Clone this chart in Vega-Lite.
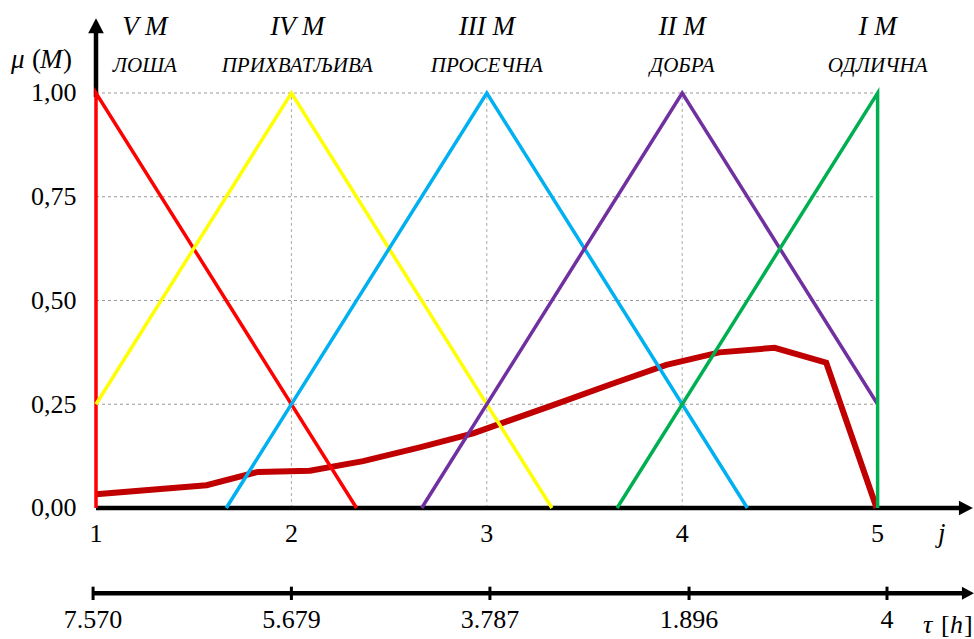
{
  "$schema": "https://vega.github.io/schema/vega-lite/v6.json",
  "autosize": {"type": "none"},
  "padding": {"left": 96, "top": 18, "right": 0, "bottom": 0},
  "width": 878,
  "height": 621,
  "background": "white",
  "config": {
    "view": {"stroke": null},
    "font": "Liberation Serif",
    "axisY": {"domain": false, "ticks": false, "grid": false,
      "labelFont": "Liberation Serif", "labelFontSize": 26, "labelColor": "black", "labelPadding": 20,
      "labelExpr": "replace(format(datum.value, '.2f'), '.', ',')"}
  },
  "datasets": {
    "triangles": [
      {"s": 1, "j": 1, "mu": 0, "o": 1},
      {"s": 1, "j": 1, "mu": 1, "o": 2},
      {"s": 1, "j": 2.3333, "mu": 0, "o": 3},
      {"s": 2, "j": 1, "mu": 0.25, "o": 1},
      {"s": 2, "j": 2, "mu": 1, "o": 2},
      {"s": 2, "j": 3.3333, "mu": 0, "o": 3},
      {"s": 3, "j": 1.6667, "mu": 0, "o": 1},
      {"s": 3, "j": 3, "mu": 1, "o": 2},
      {"s": 3, "j": 4.3333, "mu": 0, "o": 3},
      {"s": 4, "j": 2.6667, "mu": 0, "o": 1},
      {"s": 4, "j": 4, "mu": 1, "o": 2},
      {"s": 4, "j": 5, "mu": 0.25, "o": 3},
      {"s": 5, "j": 3.6667, "mu": 0, "o": 1},
      {"s": 5, "j": 5, "mu": 1, "o": 2},
      {"s": 5, "j": 5, "mu": 0, "o": 3}
    ],
    "curve": [
      {"j": 1.0, "mu": 0.033},
      {"j": 1.566, "mu": 0.055},
      {"j": 1.83, "mu": 0.087},
      {"j": 2.095, "mu": 0.09},
      {"j": 2.367, "mu": 0.113},
      {"j": 2.657, "mu": 0.146},
      {"j": 2.93, "mu": 0.18},
      {"j": 3.339, "mu": 0.248},
      {"j": 3.646, "mu": 0.3},
      {"j": 3.919, "mu": 0.345},
      {"j": 4.19, "mu": 0.375},
      {"j": 4.473, "mu": 0.386},
      {"j": 4.737, "mu": 0.35},
      {"j": 4.995, "mu": 0.0}
    ],
    "gridH": [{"mu": 0}, {"mu": 0.25}, {"mu": 0.5}, {"mu": 0.75}, {"mu": 1}],
    "gridV": [{"j": 2}, {"j": 3}, {"j": 4}],
    "top": [
      {"x": 1.25, "top": "V M", "sub": "ЛОША"},
      {"x": 2.03, "top": "IV M", "sub": "ПРИХВАТЉИВА"},
      {"x": 3.0, "top": "III M", "sub": "ПРОСЕЧНА"},
      {"x": 4.0, "top": "II M", "sub": "ДОБРА"},
      {"x": 5.0, "top": "I M", "sub": "ОДЛИЧНА"}
    ],
    "jticks": [{"j": 1, "label": "1"}, {"j": 2, "label": "2"}, {"j": 3, "label": "3"}, {"j": 4, "label": "4"}, {"j": 5, "label": "5"}],
    "tau": [
      {"pos": 0.985, "label": "7.570"},
      {"pos": 2.0, "label": "5.679"},
      {"pos": 3.016, "label": "3.787"},
      {"pos": 4.035, "label": "1.896"},
      {"pos": 5.048, "label": "4"}
    ],
    "one": [{}]
  },
  "layer": [
    {
      "data": {"name": "gridH"},
      "transform": [{"filter": "datum.mu > 0"}],
      "mark": {"type": "rule", "color": "#999999", "strokeWidth": 1, "strokeDash": [3, 3]},
      "encoding": {
        "x": {"datum": 1, "type": "quantitative", "scale": {"domain": [1, 5.4933], "nice": false, "zero": false}, "axis": null},
        "x2": {"datum": 5},
        "y": {"field": "mu", "type": "quantitative", "title": null, "scale": {"domain": [-0.3157, 1.1807], "nice": false, "zero": false},
          "axis": {"values": [0, 0.25, 0.5, 0.75, 1]}}
      }
    },
    {
      "data": {"name": "gridV"},
      "mark": {"type": "rule", "color": "#aaaaaa", "strokeWidth": 1, "strokeDash": [3, 3]},
      "encoding": {
        "x": {"field": "j", "type": "quantitative", "scale": {"domain": [1, 5.4933], "nice": false, "zero": false}, "axis": null},
        "y": {"datum": 0, "type": "quantitative", "title": null, "scale": {"domain": [-0.3157, 1.1807], "nice": false, "zero": false}},
        "y2": {"datum": 1}
      }
    },
    {
      "data": {"name": "one"},
      "mark": {"type": "rule", "color": "black", "strokeWidth": 4.5},
      "encoding": {
        "x": {"datum": 1, "type": "quantitative", "scale": {"domain": [1, 5.4933], "nice": false, "zero": false}, "axis": null},
        "x2": {"datum": 5.45},
        "y": {"datum": 0, "type": "quantitative", "title": null, "scale": {"domain": [-0.3157, 1.1807], "nice": false, "zero": false}}
      }
    },
    {
      "data": {"name": "one"},
      "mark": {"type": "rule", "color": "black", "strokeWidth": 4.5},
      "encoding": {
        "x": {"datum": 1, "type": "quantitative", "scale": {"domain": [1, 5.4933], "nice": false, "zero": false}, "axis": null},
        "y": {"datum": 0.99, "type": "quantitative", "title": null, "scale": {"domain": [-0.3157, 1.1807], "nice": false, "zero": false}},
        "y2": {"datum": 1.15}
      }
    },
    {
      "data": {"name": "one"},
      "mark": {"type": "rule", "color": "black", "strokeWidth": 4.5},
      "encoding": {
        "x": {"datum": 0.985, "type": "quantitative", "scale": {"domain": [1, 5.4933], "nice": false, "zero": false}, "axis": null},
        "x2": {"datum": 5.45},
        "y": {"datum": -0.2055, "type": "quantitative", "title": null, "scale": {"domain": [-0.3157, 1.1807], "nice": false, "zero": false}}
      }
    },
    {
      "data": {"name": "tau"},
      "mark": {"type": "rule", "color": "black", "strokeWidth": 3},
      "encoding": {
        "x": {"field": "pos", "type": "quantitative", "scale": {"domain": [1, 5.4933], "nice": false, "zero": false}, "axis": null},
        "y": {"datum": -0.1896, "type": "quantitative", "title": null, "scale": {"domain": [-0.3157, 1.1807], "nice": false, "zero": false}},
        "y2": {"datum": -0.2217}
      }
    },
    {
      "data": {"name": "one"},
      "mark": {"type": "point", "filled": true, "color": "black", "opacity": 1, "size": 784, "shape": "M 0 0 L -1 -0.52 L -1 0.52 Z"},
      "encoding": {
        "x": {"datum": 5.488, "type": "quantitative", "scale": {"domain": [1, 5.4933], "nice": false, "zero": false}, "axis": null},
        "y": {"datum": 0, "type": "quantitative", "title": null, "scale": {"domain": [-0.3157, 1.1807], "nice": false, "zero": false}}
      }
    },
    {
      "data": {"name": "one"},
      "mark": {"type": "point", "filled": true, "color": "black", "opacity": 1, "size": 576, "shape": "M 0 0 L -1 -0.55 L -1 0.55 Z"},
      "encoding": {
        "x": {"datum": 5.493, "type": "quantitative", "scale": {"domain": [1, 5.4933], "nice": false, "zero": false}, "axis": null},
        "y": {"datum": -0.2055, "type": "quantitative", "title": null, "scale": {"domain": [-0.3157, 1.1807], "nice": false, "zero": false}}
      }
    },
    {
      "data": {"name": "one"},
      "mark": {"type": "point", "filled": true, "color": "black", "opacity": 1, "size": 900, "shape": "M 0 0 L -0.52 1 L 0.52 1 Z"},
      "encoding": {
        "x": {"datum": 1, "type": "quantitative", "scale": {"domain": [1, 5.4933], "nice": false, "zero": false}, "axis": null},
        "y": {"datum": 1.18, "type": "quantitative", "title": null, "scale": {"domain": [-0.3157, 1.1807], "nice": false, "zero": false}}
      }
    },
    {
      "data": {"name": "curve"},
      "mark": {"type": "line", "strokeWidth": 6, "color": "#C00000", "strokeJoin": "miter", "strokeCap": "butt"},
      "encoding": {
        "x": {"field": "j", "type": "quantitative", "scale": {"domain": [1, 5.4933], "nice": false, "zero": false}, "axis": null},
        "y": {"field": "mu", "type": "quantitative", "title": null, "scale": {"domain": [-0.3157, 1.1807], "nice": false, "zero": false}}
      }
    },
    {
      "data": {"name": "triangles"},
      "mark": {"type": "line", "strokeWidth": 3.5, "strokeCap": "butt", "strokeJoin": "miter"},
      "encoding": {
        "x": {"field": "j", "type": "quantitative", "scale": {"domain": [1, 5.4933], "nice": false, "zero": false}, "axis": null},
        "y": {"field": "mu", "type": "quantitative", "title": null, "scale": {"domain": [-0.3157, 1.1807], "nice": false, "zero": false}},
        "color": {"field": "s", "type": "nominal", "legend": null,
          "scale": {"domain": [1, 2, 3, 4, 5], "range": ["#FF0000", "#FFFF00", "#00B0F0", "#7030A0", "#00B050"]}},
        "order": {"field": "o", "type": "quantitative"}
      }
    },
    {
      "data": {"name": "top"},
      "mark": {"type": "text", "font": "Liberation Serif", "fontStyle": "italic", "fontSize": 27, "baseline": "alphabetic", "align": "center", "color": "black"},
      "encoding": {
        "x": {"field": "x", "type": "quantitative", "scale": {"domain": [1, 5.4933], "nice": false, "zero": false}, "axis": null},
        "y": {"datum": 1.1398, "type": "quantitative", "title": null, "scale": {"domain": [-0.3157, 1.1807], "nice": false, "zero": false}},
        "text": {"field": "top"}
      }
    },
    {
      "data": {"name": "top"},
      "mark": {"type": "text", "font": "Liberation Serif", "fontStyle": "italic", "fontSize": 21, "baseline": "alphabetic", "align": "center", "color": "black"},
      "encoding": {
        "x": {"field": "x", "type": "quantitative", "scale": {"domain": [1, 5.4933], "nice": false, "zero": false}, "axis": null},
        "y": {"datum": 1.0506, "type": "quantitative", "title": null, "scale": {"domain": [-0.3157, 1.1807], "nice": false, "zero": false}},
        "text": {"field": "sub"}
      }
    },
    {
      "data": {"name": "jticks"},
      "mark": {"type": "text", "font": "Liberation Serif", "fontSize": 26, "baseline": "alphabetic", "align": "center", "color": "black"},
      "encoding": {
        "x": {"field": "j", "type": "quantitative", "scale": {"domain": [1, 5.4933], "nice": false, "zero": false}, "axis": null},
        "y": {"datum": -0.0827, "type": "quantitative", "title": null, "scale": {"domain": [-0.3157, 1.1807], "nice": false, "zero": false}},
        "text": {"field": "label"}
      }
    },
    {
      "data": {"name": "tau"},
      "mark": {"type": "text", "font": "Liberation Serif", "fontSize": 26, "baseline": "alphabetic", "align": "center", "color": "black"},
      "encoding": {
        "x": {"field": "pos", "type": "quantitative", "scale": {"domain": [1, 5.4933], "nice": false, "zero": false}, "axis": null},
        "y": {"datum": -0.2884, "type": "quantitative", "title": null, "scale": {"domain": [-0.3157, 1.1807], "nice": false, "zero": false}},
        "text": {"field": "label"}
      }
    },
    {
      "data": {"name": "one"},
      "mark": {"type": "text", "font": "Liberation Serif", "fontStyle": "italic", "fontSize": 27, "baseline": "alphabetic", "align": "center", "color": "black", "text": "j"},
      "encoding": {
        "x": {"datum": 5.328, "type": "quantitative", "scale": {"domain": [1, 5.4933], "nice": false, "zero": false}, "axis": null},
        "y": {"datum": -0.0827, "type": "quantitative", "title": null, "scale": {"domain": [-0.3157, 1.1807], "nice": false, "zero": false}}
      }
    },
    {
      "data": {"name": "one"},
      "mark": {"type": "text", "font": "Liberation Serif", "fontStyle": "italic", "fontSize": 26, "baseline": "alphabetic", "align": "left", "color": "black", "text": "τ"},
      "encoding": {
        "x": {"datum": 5.232, "type": "quantitative", "scale": {"domain": [1, 5.4933], "nice": false, "zero": false}, "axis": null},
        "y": {"datum": -0.301, "type": "quantitative", "title": null, "scale": {"domain": [-0.3157, 1.1807], "nice": false, "zero": false}}
      }
    },
    {
      "data": {"name": "one"},
      "mark": {"type": "text", "font": "Liberation Serif", "fontSize": 26, "baseline": "alphabetic", "align": "left", "color": "black", "text": "[", "dx": 18},
      "encoding": {
        "x": {"datum": 5.232, "type": "quantitative", "scale": {"domain": [1, 5.4933], "nice": false, "zero": false}, "axis": null},
        "y": {"datum": -0.301, "type": "quantitative", "title": null, "scale": {"domain": [-0.3157, 1.1807], "nice": false, "zero": false}}
      }
    },
    {
      "data": {"name": "one"},
      "mark": {"type": "text", "font": "Liberation Serif", "fontStyle": "italic", "fontSize": 26, "baseline": "alphabetic", "align": "left", "color": "black", "text": "h", "dx": 27},
      "encoding": {
        "x": {"datum": 5.232, "type": "quantitative", "scale": {"domain": [1, 5.4933], "nice": false, "zero": false}, "axis": null},
        "y": {"datum": -0.301, "type": "quantitative", "title": null, "scale": {"domain": [-0.3157, 1.1807], "nice": false, "zero": false}}
      }
    },
    {
      "data": {"name": "one"},
      "mark": {"type": "text", "font": "Liberation Serif", "fontSize": 26, "baseline": "alphabetic", "align": "left", "color": "black", "text": "]", "dx": 41},
      "encoding": {
        "x": {"datum": 5.232, "type": "quantitative", "scale": {"domain": [1, 5.4933], "nice": false, "zero": false}, "axis": null},
        "y": {"datum": -0.301, "type": "quantitative", "title": null, "scale": {"domain": [-0.3157, 1.1807], "nice": false, "zero": false}}
      }
    },
    {
      "data": {"name": "one"},
      "mark": {"type": "text", "font": "Liberation Serif", "fontStyle": "italic", "fontSize": 27, "baseline": "alphabetic", "align": "left", "color": "black", "text": "μ"},
      "encoding": {
        "x": {"datum": 0.565, "type": "quantitative", "scale": {"domain": [1, 5.4933], "nice": false, "zero": false}, "axis": null},
        "y": {"datum": 1.0602, "type": "quantitative", "title": null, "scale": {"domain": [-0.3157, 1.1807], "nice": false, "zero": false}}
      }
    },
    {
      "data": {"name": "one"},
      "mark": {"type": "text", "font": "Liberation Serif", "fontSize": 27, "baseline": "alphabetic", "align": "left", "color": "black", "text": "(", "dx": 21},
      "encoding": {
        "x": {"datum": 0.565, "type": "quantitative", "scale": {"domain": [1, 5.4933], "nice": false, "zero": false}, "axis": null},
        "y": {"datum": 1.0602, "type": "quantitative", "title": null, "scale": {"domain": [-0.3157, 1.1807], "nice": false, "zero": false}}
      }
    },
    {
      "data": {"name": "one"},
      "mark": {"type": "text", "font": "Liberation Serif", "fontStyle": "italic", "fontSize": 27, "baseline": "alphabetic", "align": "left", "color": "black", "text": "M", "dx": 29},
      "encoding": {
        "x": {"datum": 0.565, "type": "quantitative", "scale": {"domain": [1, 5.4933], "nice": false, "zero": false}, "axis": null},
        "y": {"datum": 1.0602, "type": "quantitative", "title": null, "scale": {"domain": [-0.3157, 1.1807], "nice": false, "zero": false}}
      }
    },
    {
      "data": {"name": "one"},
      "mark": {"type": "text", "font": "Liberation Serif", "fontSize": 27, "baseline": "alphabetic", "align": "left", "color": "black", "text": ")", "dx": 52},
      "encoding": {
        "x": {"datum": 0.565, "type": "quantitative", "scale": {"domain": [1, 5.4933], "nice": false, "zero": false}, "axis": null},
        "y": {"datum": 1.0602, "type": "quantitative", "title": null, "scale": {"domain": [-0.3157, 1.1807], "nice": false, "zero": false}}
      }
    }
  ]
}
